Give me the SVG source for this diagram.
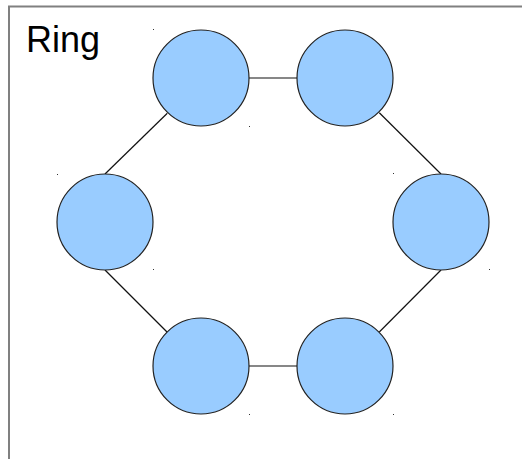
<svg xmlns="http://www.w3.org/2000/svg" width="531" height="459" viewBox="0 0 531 459">
<style>
.node{fill:#99ccff;stroke:#222;stroke-width:1.2}
.edge{stroke:#111;stroke-width:1.2;fill:none}
.dot{fill:#333}
</style>
<rect width="531" height="459" fill="#fff"/>
<path d="M9,459 V6.5 H522" fill="none" stroke="#808080" stroke-width="2"/>
<text x="26" y="52" font-family="Liberation Sans, Arial, sans-serif" font-size="36" fill="#000">Ring</text>
<g id="connectors">
<line class="edge" x1="248.7" y1="78" x2="297" y2="78"/>
<line class="edge" x1="167.3" y1="113.3" x2="105" y2="174"/>
<line class="edge" x1="379.3" y1="112.7" x2="441" y2="174"/>
<line class="edge" x1="105" y1="270" x2="167" y2="332"/>
<line class="edge" x1="441" y1="270" x2="379.3" y2="332"/>
<line class="edge" x1="248.7" y1="366" x2="297" y2="366"/>
</g>
<g id="n1"><circle class="node" cx="201" cy="78" r="48"/></g>
<g id="n2"><circle class="node" cx="345" cy="78" r="48"/></g>
<g id="n3"><circle class="node" cx="105" cy="222" r="48"/></g>
<g id="n4"><circle class="node" cx="441" cy="222" r="48"/></g>
<g id="n5"><circle class="node" cx="201" cy="366" r="48"/></g>
<g id="n6"><circle class="node" cx="345" cy="366" r="48"/></g>
<g id="dots">
<rect class="dot" x="153" y="29" width="1" height="1"/>
<rect class="dot" x="249" y="126" width="1" height="1"/>
<rect class="dot" x="57" y="174" width="1" height="1"/>
<rect class="dot" x="153" y="269" width="1" height="1"/>
<rect class="dot" x="393" y="173" width="1" height="1"/>
<rect class="dot" x="489" y="269" width="1" height="1"/>
<rect class="dot" x="249" y="414" width="1" height="1"/>
<rect class="dot" x="393" y="414" width="1" height="1"/>
</g>
</svg>
